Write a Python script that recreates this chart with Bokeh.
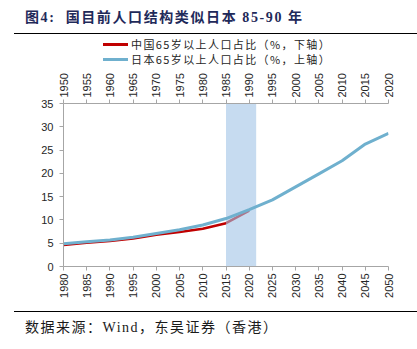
import math
from bokeh.plotting import figure
from bokeh.models import Range1d, LinearAxis, SingleIntervalTicker, Div
from bokeh.layouts import column
from bokeh.embed import file_html
from bokeh.resources import INLINE

# ---- data ----
china_years = [1980, 1985, 1990, 1995, 2000, 2005, 2010, 2015, 2020]
china_share = [4.6, 5.1, 5.5, 6.0, 6.8, 7.4, 8.1, 9.3, 12.0]

japan_years = [1950, 1955, 1960, 1965, 1970, 1975, 1980, 1985, 1990, 1995,
               2000, 2005, 2010, 2015, 2020]
japan_share = [4.9, 5.3, 5.7, 6.3, 7.1, 7.9, 8.9, 10.3, 12.2, 14.3,
               17.1, 19.9, 22.7, 26.3, 28.6]

band_start, band_end = 1985, 1991.5   # on the Japan (top) axis

title_text = "图4:&nbsp;&nbsp;国目前人口结构类似日本 85-90 年"
source_text = "数据来源：Wind，东吴证券（香港）"
china_label = "中国65岁以上人口占比（%，下轴）"
japan_label = "日本65岁以上人口占比（%，上轴）"

RED = "#C00000"
BLUE = "#6FB0CE"
BAND = "#A0C3E6"
AXIS = "#A6A6A6"
TXT = "#262626"

p = figure(width=417, height=241, output_backend="svg", toolbar_location=None,
           x_range=Range1d(1980, 2050), y_range=Range1d(0, 35),
           min_border_left=63, min_border_right=29, min_border_top=32, min_border_bottom=45)
p.extra_x_ranges = {"top": Range1d(1950, 2020)}
p.outline_line_color = None
p.xgrid.visible = False
p.ygrid.visible = False
p.background_fill_color = "white"
p.border_fill_color = "white"

def style_axis(ax):
    ax.axis_line_color = AXIS
    ax.major_tick_line_color = AXIS
    ax.minor_tick_line_color = None
    ax.major_tick_out = 4
    ax.major_tick_in = 0
    ax.major_label_text_font = "Liberation Sans"
    ax.major_label_text_font_size = "11px"
    ax.major_label_text_color = TXT

xb = p.xaxis[0]
xb.ticker = SingleIntervalTicker(interval=5)
xb.major_label_orientation = math.pi / 2
xb.major_label_standoff = 3
style_axis(xb)

yl = p.yaxis[0]
yl.ticker = SingleIntervalTicker(interval=5)
yl.major_label_standoff = 6
style_axis(yl)

xt = LinearAxis(x_range_name="top", ticker=SingleIntervalTicker(interval=5))
xt.major_label_orientation = math.pi / 2
xt.major_label_standoff = 2
style_axis(xt)
p.add_layout(xt, "above")

r_china = p.line(china_years, china_share, line_color=RED, line_width=2.5)
p.quad(left=[band_start], right=[band_end], bottom=[0], top=[35],
       x_range_name="top", fill_color=BAND, fill_alpha=0.6, line_color=None)
r_japan = p.line(japan_years, japan_share, line_color=BLUE, line_width=3,
                 x_range_name="top")

FONT = "'Liberation Serif','Noto Sans CJK SC'"

title_div = Div(
    text=(f'<div style="box-sizing:border-box;height:34px;width:403px;border-bottom:1.5px solid #000;'
          f'font-family:{FONT};font-weight:bold;font-size:14px;letter-spacing:1.6px;'
          f'color:#1F2A5A;padding:8px 0 0 11px;line-height:20px;white-space:nowrap;">'
          f'{title_text}</div>'),
    width=403, height=34, margin=(0, 0, 0, 14))

def legend_row(color, label):
    return (f'<div style="height:15px;line-height:15px;white-space:nowrap;padding-left:103px;">'
            f'<span style="display:inline-block;width:25px;height:3px;background:{color};'
            f'vertical-align:middle;margin-right:3px;"></span>'
            f'<span style="font-family:\'Noto Sans CJK SC\';font-size:11px;letter-spacing:1.4px;'
            f'color:{TXT};vertical-align:middle;">{label}</span></div>')

legend_div = Div(
    text=(f'<div style="box-sizing:border-box;height:36px;width:417px;padding-top:2.5px;">'
          f'{legend_row(RED, china_label)}{legend_row(BLUE, japan_label)}</div>'),
    width=417, height=36, margin=(0, 0, 0, 0))

source_div = Div(
    text=(f'<div style="box-sizing:border-box;height:38px;width:403px;border-top:1.5px solid #000;'
          f'font-family:{FONT};font-size:14px;letter-spacing:1.5px;color:#1a1a1a;'
          f'padding:7px 0 0 11px;line-height:18px;white-space:nowrap;">{source_text}</div>'),
    width=403, height=38, margin=(0, 0, 0, 14))

layout = column(title_div, legend_div, p, source_div, spacing=0)

open("out.html", "w").write(file_html(layout, INLINE))
